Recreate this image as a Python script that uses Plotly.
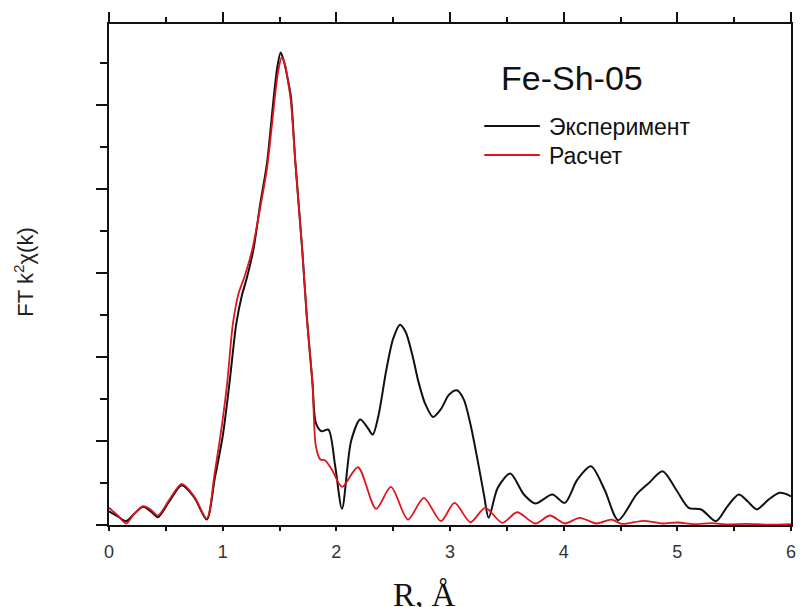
import plotly.graph_objects as go

# Experiment (black)
r_exp = [0.00, 0.08, 0.15, 0.22, 0.30, 0.37, 0.43, 0.53, 0.64, 0.75, 0.86, 0.93,
         1.00, 1.06, 1.12, 1.17, 1.21, 1.27, 1.33, 1.39, 1.45, 1.48, 1.51, 1.54, 1.57,
         1.60, 1.64, 1.70, 1.74, 1.79, 1.82, 1.87, 1.93, 1.99, 2.05, 2.13, 2.21, 2.27,
         2.32, 2.37, 2.44, 2.50, 2.56, 2.61, 2.67, 2.72, 2.78, 2.85, 2.92, 2.99, 3.06,
         3.12, 3.18, 3.25, 3.30, 3.34, 3.42, 3.53, 3.65, 3.75, 3.90, 4.01, 4.12, 4.24,
         4.36, 4.48, 4.64, 4.75, 4.87, 4.99, 5.10, 5.21, 5.34, 5.44, 5.54, 5.62, 5.70,
         5.80, 5.90, 6.00]
ft_exp = [0.164, 0.10, 0.045, 0.13, 0.217, 0.16, 0.093, 0.28, 0.474, 0.33, 0.065, 0.55,
          1.057, 1.693, 2.40, 2.74, 2.93, 3.280, 3.82, 4.312, 5.105, 5.45, 5.629, 5.52, 5.33,
          5.105, 4.312, 3.280, 2.486, 1.693, 1.217, 1.117, 1.137, 0.70, 0.193, 1.00, 1.256, 1.17,
          1.077, 1.30, 1.85, 2.22, 2.387, 2.30, 2.02, 1.72, 1.45, 1.288, 1.38, 1.55, 1.605,
          1.50, 1.20, 0.72, 0.35, 0.086, 0.443, 0.613, 0.363, 0.256, 0.363, 0.264, 0.54, 0.700,
          0.42, 0.057, 0.363, 0.50, 0.640, 0.42, 0.205, 0.185, 0.045, 0.22, 0.363, 0.28, 0.185,
          0.30, 0.383, 0.343]

# Calculation (red)
r_calc = [0.00, 0.08, 0.15, 0.22, 0.30, 0.37, 0.43, 0.53, 0.64, 0.75, 0.86, 0.93,
          1.00, 1.04, 1.09, 1.14, 1.19, 1.26, 1.33, 1.39, 1.46, 1.49, 1.52, 1.55, 1.57,
          1.60, 1.64, 1.70, 1.74, 1.79, 1.82, 1.86, 1.90, 1.96, 2.05, 2.19, 2.35, 2.48, 2.63,
          2.77, 2.92, 3.04, 3.18, 3.31, 3.46, 3.59, 3.75, 3.88, 4.01, 4.14, 4.29,
          4.42, 4.51, 4.70, 4.87, 5.00, 5.15, 5.30, 5.45, 5.60, 5.80, 6.00]
ft_calc = [0.205, 0.11, 0.018, 0.13, 0.224, 0.18, 0.113, 0.30, 0.490, 0.34, 0.077, 0.62,
           1.256, 1.693, 2.40, 2.76, 2.95, 3.280, 3.78, 4.25, 5.105, 5.42, 5.574, 5.48, 5.33,
           5.05, 4.312, 3.280, 2.486, 1.693, 0.938, 0.780, 0.771, 0.661, 0.455, 0.688, 0.193, 0.455, 0.065,
           0.324, 0.045, 0.264, 0.033, 0.205, 0.026, 0.152, 0.018, 0.113, 0.018, 0.086, 0.018,
           0.065, 0.014, 0.050, 0.018, 0.030, 0.010, 0.022, 0.006, 0.014, 0.004, 0.010]

x_ticks = [0, 1, 2, 3, 4, 5, 6]
legend_names = ["Эксперимент", "Расчет"]
sample_label = "Fe-Sh-05"

SANS = "Liberation Sans, Arial, sans-serif"
SERIF = "Liberation Serif, Times New Roman, serif"

W, H = 801, 607
ML, MR, MT, MB = 109, 5, 24, 82
PW, PH = W - ML - MR, H - MT - MB


def px(xp):
    return (xp - ML) / PW


def py(yp):
    return (H - MB - yp) / PH


fig = go.Figure()
fig.add_trace(go.Scatter(x=r_exp, y=ft_exp, mode="lines", name=legend_names[0],
                         line=dict(color="#111111", width=2, shape="spline", smoothing=0.8),
                         showlegend=False, hoverinfo="skip"))
fig.add_trace(go.Scatter(x=r_calc, y=ft_calc, mode="lines", name=legend_names[1],
                         xaxis="x2",
                         line=dict(color="#e0141c", width=1.8, shape="spline", smoothing=0.8),
                         showlegend=False, hoverinfo="skip"))

fig.update_layout(
    width=W, height=H,
    margin=dict(l=ML, r=MR, t=MT, b=MB, pad=0),
    paper_bgcolor="white", plot_bgcolor="white",
    font=dict(family=SANS, color="#222222"),
    xaxis=dict(range=[0, 6], tickvals=x_ticks, ticktext=[str(v) for v in x_ticks],
               ticks="outside", ticklen=4, tickwidth=1.5, tickcolor="#111",
               ticklabelstandoff=5,
               minor=dict(dtick=0.5, tick0=0, ticks="outside", ticklen=4, tickwidth=1.5, tickcolor="#111"),
               showline=True, linecolor="#111", linewidth=2, showgrid=False, zeroline=False,
               tickfont=dict(size=18, family=SANS, color="#333333"), mirror=False),
    xaxis2=dict(range=[0, 6], overlaying="x", side="top", anchor="y", matches="x",
                tickvals=x_ticks, showticklabels=False,
                ticks="outside", ticklen=10, tickwidth=1.5, tickcolor="#111",
                minor=dict(dtick=0.5, tick0=0, ticks="outside", ticklen=5, tickwidth=1.5, tickcolor="#111"),
                showline=True, linecolor="#111", linewidth=2, showgrid=False, zeroline=False),
    yaxis=dict(range=[0, 5.97], dtick=1, tick0=0, showticklabels=False,
               ticks="outside", ticklen=11, tickwidth=1.5, tickcolor="#111",
               minor=dict(dtick=0.5, tick0=0, ticks="outside", ticklen=7, tickwidth=1.5, tickcolor="#111"),
               showline=True, linecolor="#111", linewidth=2, mirror=True,
               showgrid=False, zeroline=False),
)

# legend drawn by hand
fig.add_shape(type="line", xref="paper", yref="paper", x0=px(487), x1=px(543), y0=py(126), y1=py(126),
              line=dict(color="#111111", width=2))
fig.add_shape(type="line", xref="paper", yref="paper", x0=px(487), x1=px(543), y0=py(155), y1=py(155),
              line=dict(color="#e0141c", width=2))
fig.add_annotation(xref="paper", yref="paper", x=px(550), y=py(127), xanchor="left", yanchor="middle",
                   text=legend_names[0], showarrow=False, font=dict(size=23, family=SANS, color="#111"))
fig.add_annotation(xref="paper", yref="paper", x=px(550), y=py(156), xanchor="left", yanchor="middle",
                   text=legend_names[1], showarrow=False, font=dict(size=23, family=SANS, color="#111"))
fig.add_annotation(xref="paper", yref="paper", x=px(502), y=py(78), xanchor="left", yanchor="middle",
                   text=sample_label, showarrow=False, font=dict(size=34, family=SANS, color="#111"))

# axis titles
fig.add_annotation(xref="paper", yref="paper", x=px(23), y=py(272), xanchor="center", yanchor="middle",
                   text="FT k<sup>2</sup>χ(k)", textangle=-90, showarrow=False,
                   font=dict(size=22, family=SANS, color="#222"))
fig.add_annotation(xref="paper", yref="paper", x=px(427), y=py(575), xanchor="center", yanchor="top",
                   text="R, Å", showarrow=False, font=dict(size=33, family=SERIF, color="#111"))

fig.write_html("out.html")
